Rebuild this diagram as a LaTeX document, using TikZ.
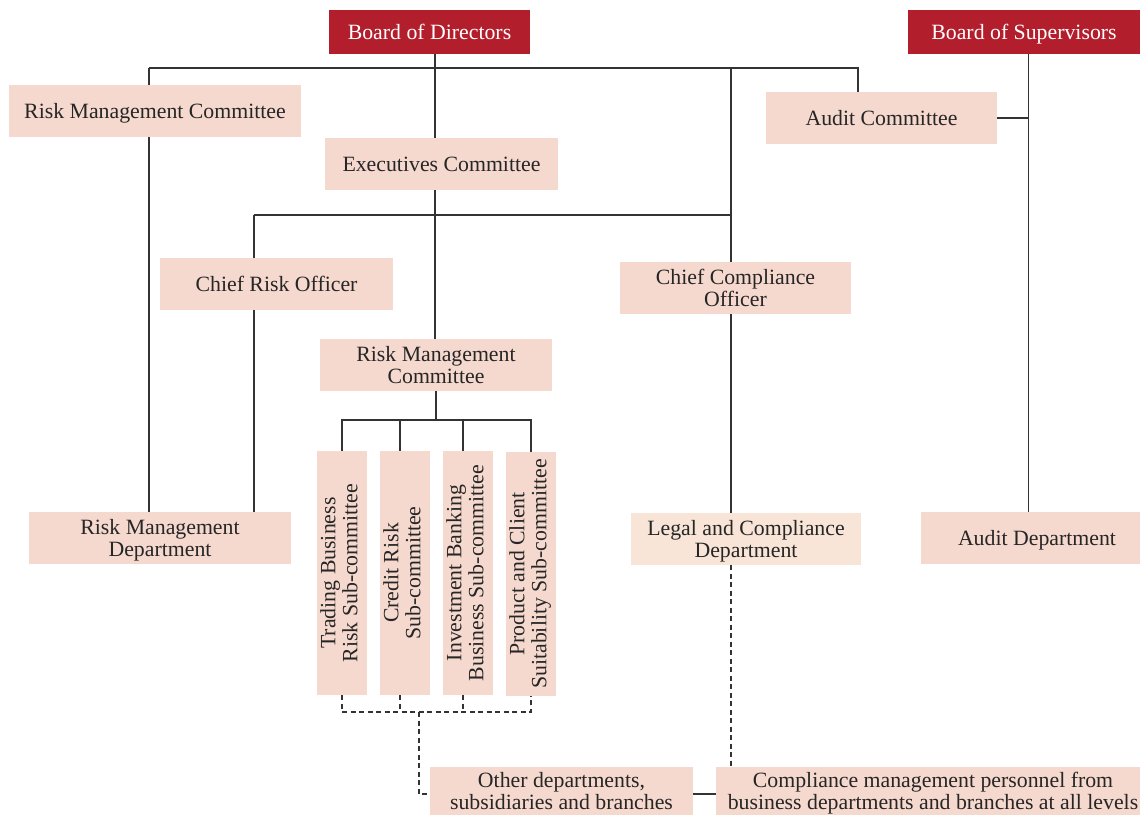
\documentclass[tikz,border=0pt]{standalone}
\usepackage{fontspec}
\setmainfont{Liberation Serif}
\usepackage{graphicx}
\definecolor{boxc}{HTML}{F6D9CE}
\definecolor{boxl}{HTML}{F8E5D8}
\definecolor{redc}{HTML}{B21E2B}
\definecolor{linec}{HTML}{333333}
\definecolor{txtc}{HTML}{262626}
\tikzset{
  base/.style={rectangle, inner sep=0pt, font=\fontsize{21.8}{22}\selectfont, align=center, text=txtc},
  orgbox/.style={base, fill=boxc, minimum height=52pt, text depth=0pt},
  redbox/.style={base, fill=redc, text=white, minimum height=44pt, text depth=0pt},
  subbox/.style={base, fill=boxc, minimum width=50pt, minimum height=244pt},
  conn/.style={draw=linec, line width=1.3pt},
  dconn/.style={conn, dash pattern=on 5pt off 3.5pt},
}
\newcommand{\vtext}[2]{\rotatebox{90}{\begin{tabular}{@{}c@{}}#1\\#2\end{tabular}}}
\begin{document}
\begin{tikzpicture}[x=1pt,y=-1pt]
\useasboundingbox (0,0) rectangle (1140,814);
% coordinates of trunk lines
\coordinate (L1) at (149,68);
\coordinate (T) at (435,68);
\coordinate (C) at (731,68);
\coordinate (A) at (858,68);
\coordinate (B2) at (254,215);
\coordinate (B3) at (731,215);
\coordinate (S) at (1028.5,54);
\coordinate (sb) at (436,420);
\coordinate (db) at (419,712);

% connectors (drawn first, boxes on top)
\draw[conn] (L1) -- (A) -- (A |- 0,92);
\draw[conn] (T |- 0,54) -- (T |- 0,138);
\draw[conn] (T |- 0,190) -- (T |- 0,339);
\draw[conn] (C) -- (C |- 0,262);
\draw[conn] (B2) -- (B3);
\draw[conn] (B2) -- (B2 |- 0,258);
\draw[conn] (B2 |- 0,310) -- (B2 |- 0,512);
\draw[conn] (L1) -- (L1 |- 0,85);
\draw[conn] (L1 |- 0,137) -- (L1 |- 0,512);
\draw[conn] (C |- 0,314) -- (C |- 0,513);
\draw[conn] (S) -- (S |- 0,512);
\draw[conn] (997,118) -- (S |- 0,118);

% nodes
\node[redbox, minimum width=201pt] (bod) at (429.5,32) {Board of Directors};
\node[redbox, minimum width=232pt] (bos) at (1024,32) {Board of Supervisors};
\node[orgbox, minimum width=292pt] (rmc) at (155,111) {Risk Management Committee};
\node[orgbox, minimum width=233pt] (exe) at (441.5,164) {Executives Committee};
\node[orgbox, minimum width=231pt] (aud) at (881.5,118) {Audit Committee};
\node[orgbox, minimum width=233pt] (cro) at (276.5,284) {Chief Risk Officer};
\node[orgbox, minimum width=231pt] (cco) at (735.5,288) {Chief Compliance\\Officer};
\node[orgbox, minimum width=232pt] (rmc2) at (436,365) {Risk Management\\Committee};
\node[subbox] (s1) at (342,573) {\vtext{Trading Business}{Risk Sub-committee}};
\node[subbox] (s2) at (405,573) {\vtext{Credit Risk}{Sub-committee}};
\node[subbox] (s3) at (468,573) {\vtext{Investment Banking}{Business Sub-committee}};
\node[subbox] (s4) at (531,574) {\vtext{Product and Client}{Suitability Sub-committee}};
\node[orgbox, minimum width=262pt] (rmd) at (160,538) {Risk Management\\Department};
\node[orgbox, fill=boxl, minimum width=230pt] (lcd) at (746,539) {Legal and Compliance\\Department};
\node[orgbox, minimum width=232pt] (ad) at (1037,538) {Audit Department};
\node[orgbox, minimum width=263pt, minimum height=48pt] (oth) at (561.5,791) {Other departments,\\subsidiaries and branches};
\node[orgbox, minimum width=434pt, minimum height=48pt] (comp) at (933,791) {Compliance management personnel from\\business departments and branches at all levels};

% sub-committee connectors
\draw[conn] (rmc2.south) -- (sb);
\draw[conn] (s1.north) -- (s1.north |- sb) -- (s4.north |- sb) -- (s4.north);
\draw[conn] ([xshift=-5pt]s2.north) -- ([xshift=-5pt]s2.north |- sb);
\draw[conn] ([xshift=-5pt]s3.north) -- ([xshift=-5pt]s3.north |- sb);

% dashed connectors
\draw[dconn] (s1.south) -- (s1.south |- db) -- (s4.south |- db) -- (s4.south);
\draw[dconn] ([xshift=-5pt]s2.south) -- ([xshift=-5pt]s2.south |- db);
\draw[dconn] ([xshift=-5pt]s3.south) -- ([xshift=-5pt]s3.south |- db);
\draw[dconn] (db) -- (db |- 0,794) -- ([yshift=-3pt]oth.west);
\draw[dconn] (lcd.south -| C) -- (C |- comp.north);
\draw[conn] ([yshift=-3pt]oth.east) -- ([yshift=-3pt]comp.west);
\end{tikzpicture}
\end{document}
